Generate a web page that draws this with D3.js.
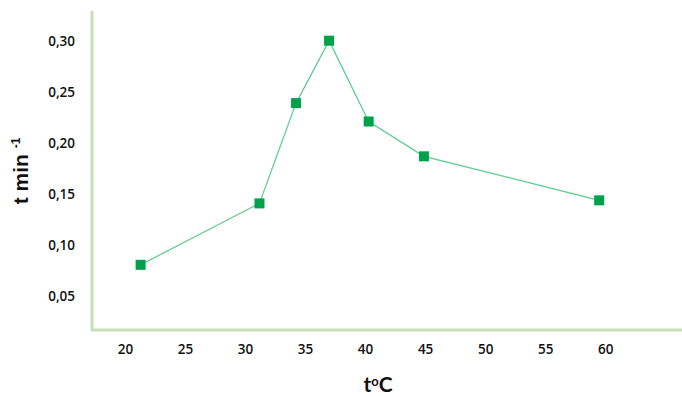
<!DOCTYPE html>
<html>
<head>
<meta charset="utf-8">
<script src="https://cdn.jsdelivr.net/npm/d3@7"></script>
<style>
  body { margin: 0; background: #fff; }
  .tick text { font-family: "Open Sans", sans-serif; font-weight: 600; font-size: 13.5px; fill: #111; }
</style>
</head>
<body>
<div id="chart"></div>
<script>
// temperature (°C) and rate values
var temps = [21.3, 31.2, 34.25, 37.0, 40.3, 44.9, 59.5];
var rates = [0.081, 0.141, 0.239, 0.300, 0.221, 0.187, 0.144];
var xTicks = [20, 25, 30, 35, 40, 45, 50, 55, 60];
var yTicks = [0.05, 0.10, 0.15, 0.20, 0.25, 0.30];

function drawChart(containerId){

    var width = 682, height = 397;
    var margin = ({top: 11, right: 0, bottom: 67, left: 92});

    var svg = d3.select('#'+containerId).append("svg")
        .attr("width", width)
        .attr("height", height);

    var x = d3.scaleLinear()
        .domain([17.25, 66.4])
        .range([margin.left, width - margin.right]);

    var y = d3.scaleLinear()
        .domain([0.0173, 0.329])
        .range([height - margin.bottom, margin.top]);

    var fmt = d3.format(".2f");

    // x ticks
    svg.append("g")
        .attr("transform", `translate(0,${height - margin.bottom})`)
        .call(d3.axisBottom(x).tickValues(xTicks).tickSize(0).tickPadding(14))
        .call(g => g.select(".domain").remove());

    // y ticks
    svg.append("g")
        .attr("transform", `translate(${margin.left},0)`)
        .call(d3.axisLeft(y).tickValues(yTicks).tickSize(0).tickPadding(17)
            .tickFormat(d => fmt(d).replace(".", ",")))
        .call(g => g.select(".domain").remove());

    // axis lines
    svg.append("path")
        .attr("fill", "none")
        .attr("stroke", "#c5e0b4")
        .attr("stroke-width", 3)
        .attr("d", `M${margin.left},${margin.top}V${height - margin.bottom}H${width}`);

    var data = temps.map((t, i) => ({t: t, v: rates[i]}));

    var line = d3.line()
        .x(d => x(d.t))
        .y(d => y(d.v));

    svg.append("path")
        .attr("fill", "none")
        .attr("stroke", "#5ccb8b")
        .attr("stroke-width", 1.2)
        .attr("d", line(data));

    svg.selectAll("rect.pt")
        .data(data)
        .join("rect")
        .attr("class", "pt")
        .attr("x", d => x(d.t) - 5)
        .attr("y", d => y(d.v) - 5)
        .attr("width", 10)
        .attr("height", 10)
        .attr("fill", "#00a14b");

    // y label
    var yl = svg.append("text")
        .attr("transform", "translate(28,171) rotate(-90)")
        .attr("text-anchor", "middle")
        .attr("font-family", "Liberation Sans, Arial, sans-serif")
        .attr("font-weight", "bold")
        .attr("font-size", 21)
        .attr("fill", "#111");
    yl.append("tspan").text("t min ");
    yl.append("tspan").attr("font-size", 12).attr("dy", -8).text("-1");

    // x label
    var xl = svg.append("text")
        .attr("x", 378)
        .attr("y", 392)
        .attr("text-anchor", "middle")
        .attr("font-family", "Lato, sans-serif")
        .attr("font-weight", "bold")
        .attr("font-size", 21)
        .attr("fill", "#111");
    xl.append("tspan").text("t");
    xl.append("tspan").attr("font-size", 13).attr("dy", -6).text("o");
    xl.append("tspan").attr("dy", 6).text("C");
}

drawChart('chart');
</script>
</body>
</html>
